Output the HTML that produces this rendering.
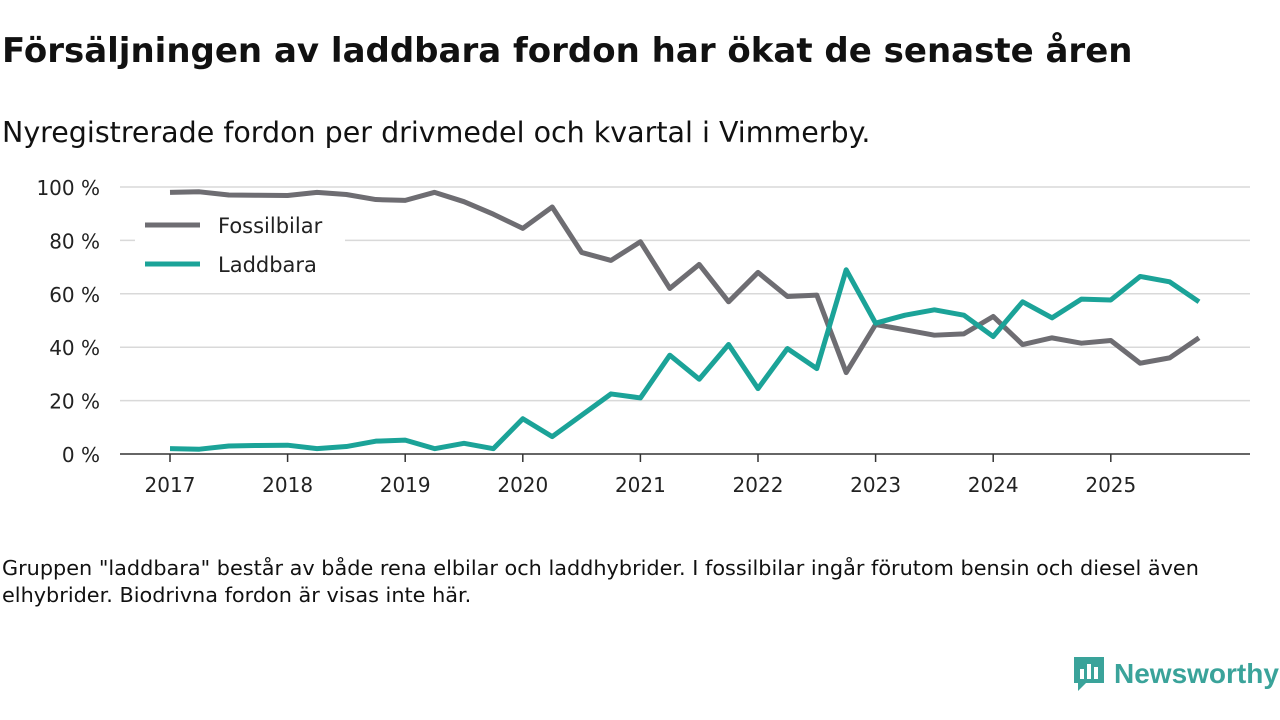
<!DOCTYPE html>
<html><head><meta charset="utf-8">
<style>
body{margin:0;width:1280px;height:720px;background:#fff;font-family:"DejaVu Sans","Liberation Sans",sans-serif;overflow:hidden;position:relative;color:#111}
#title{position:absolute;left:2px;top:31px;font-size:34px;font-weight:bold;margin:0;white-space:nowrap}
#sub{position:absolute;left:2px;top:116px;font-size:28.5px;white-space:nowrap}
#foot{position:absolute;left:2px;top:555px;font-size:20.8px;line-height:27px;width:1230px}
#logo{position:absolute;left:1072px;top:655px;display:flex;align-items:center;font-size:28px;font-weight:bold;color:#3aa39a;font-family:"Liberation Sans",sans-serif}
svg{position:absolute;left:0;top:0}
</style></head><body>
<h1 id="title">Försäljningen av laddbara fordon har ökat de senaste åren</h1>
<div id="sub">Nyregistrerade fordon per drivmedel och kvartal i Vimmerby.</div>
<svg id="chart" width="1280" height="540"></svg>
<div id="foot">Gruppen "laddbara" består av både rena elbilar och laddhybrider. I fossilbilar ingår förutom bensin och diesel även elhybrider. Biodrivna fordon är visas inte här.</div>
<div id="logo"><svg style="position:static;margin-right:8px" width="34" height="38" viewBox="0 0 34 38"><path d="M2 2h30v26H14l-8 8v-8H2z" fill="#3aa39a"/><rect x="8" y="14" width="4" height="10" fill="#fff"/><rect x="15" y="9" width="4" height="15" fill="#fff"/><rect x="22" y="12" width="4" height="12" fill="#fff"/></svg>Newsworthy</div>
<script>
const years=[2017,2018,2019,2020,2021,2022,2023,2024,2025];
const yTicks=[0,20,40,60,80,100];
const fossil=[98,98.2,97,96.9,96.8,98,97.2,95.3,95,98,94.5,89.8,84.5,92.5,75.5,72.5,79.5,62,71,57,68,59,59.5,30.5,48.5,46.5,44.5,45,51.5,41,43.5,41.5,42.5,34,36,43.5];
const laddbara=[2,1.8,3,3.2,3.3,2,2.8,4.8,5.2,2,4,2,13.2,6.5,14.5,22.5,21,37,28,41,24.5,39.5,32,69,49,52,54,52,44,57,51,58,57.7,66.5,64.5,57];
const svg=document.getElementById('chart');const NS='http://www.w3.org/2000/svg';
const X=t=>170+(t-2017)*117.6;const Y=v=>454-v*2.67;
function mk(tag,a){const e=document.createElementNS(NS,tag);for(const k in a)e.setAttribute(k,a[k]);svg.appendChild(e);return e;}
yTicks.forEach(v=>{
 if(v>0){const g=mk('line',{x1:120,x2:1250,y1:Y(v),y2:Y(v),stroke:'#d9d9d9','stroke-width':1.5});
 
 }
 const t=mk('text',{x:100,y:Y(v)+8,'text-anchor':'end','font-size':20,fill:'#222'});t.textContent=v+' %';
 
 
});
const ax=mk('line',{x1:120,x2:1250,y1:454,y2:454,stroke:'#333','stroke-width':1.5});


years.forEach(yr=>{
 const tk=mk('line',{x1:X(yr),x2:X(yr),y1:454,y2:462,stroke:'#333','stroke-width':1.5});
 
 
 const t=mk('text',{x:X(yr),y:492,'text-anchor':'middle','font-size':20,fill:'#222'});t.textContent=yr;
 
 
});
function line(d,c,name){const p=mk('polyline',{points:d.map((v,i)=>X(2017+i/4)+','+Y(v)).join(' '),fill:'none',stroke:c,'stroke-width':5,'stroke-linejoin':'round'});
 
 }
line(fossil,'#6e6d72','fossilbilar-line');
line(laddbara,'#1ba398','laddbara-line');
mk('rect',{x:135,y:205,width:210,height:82,fill:'#fff'});
[['Fossilbilar','#6e6d72',225],['Laddbara','#1ba398',264]].forEach(([n,c,y])=>{
 const l=mk('line',{x1:145,x2:200,y1:y,y2:y,stroke:c,'stroke-width':5});
 
 
 const t=mk('text',{x:218,y:y+8,'font-size':21,fill:'#222'});t.textContent=n;
 
 
});
</script>
</body></html>
